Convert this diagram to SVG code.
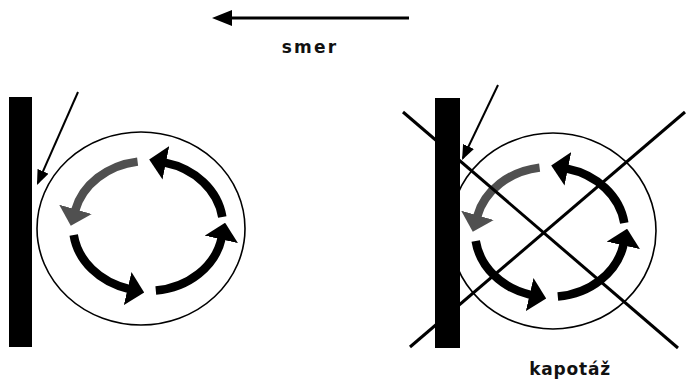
<svg xmlns="http://www.w3.org/2000/svg" width="687" height="384" viewBox="0 0 687 384">
<style>
.bar{fill:#000}
.ring{fill:none;stroke:#000;stroke-width:1.6}
.rot{fill:none;stroke:#000;stroke-width:8.5}
.rotg{fill:none;stroke:#505050;stroke-width:8.5}
.thin{fill:none;stroke:#000;stroke-width:2}
.cross{fill:none;stroke:#000;stroke-width:3}
.lbl{font-family:"DejaVu Sans","Liberation Sans",sans-serif;font-weight:bold;font-size:17px;fill:#111;text-anchor:middle}
</style>
<defs>
<marker id="headB" viewBox="0 0 17 34" refX="1" refY="17" markerWidth="17" markerHeight="34" markerUnits="userSpaceOnUse" orient="auto">
<path d="M0,0 L17,17 L0,34 z" fill="#000"/>
</marker>
<marker id="headG" viewBox="0 0 17 34" refX="1" refY="17" markerWidth="17" markerHeight="34" markerUnits="userSpaceOnUse" orient="auto">
<path d="M0,0 L17,17 L0,34 z" fill="#505050"/>
</marker>
<marker id="headT" viewBox="0 0 15 12" refX="13" refY="6" markerWidth="15" markerHeight="12" markerUnits="userSpaceOnUse" orient="auto">
<path d="M0,0 L15,6 L0,12 z" fill="#000"/>
</marker>
<g id="rotor">
<path class="rotg" d="M-10.4,-64.4 A75,65 0 0 0 -72.8,-15.7" marker-end="url(#headG)"/>
<path class="rot" d="M74.3,-9 A75,65 0 0 0 16.9,-63.3" marker-end="url(#headB)"/>
<path class="rot" d="M7.8,64.6 A75,65 0 0 0 73.6,12.4" marker-end="url(#headB)"/>
<path class="rot" d="M-74.3,9 A75,65 0 0 0 -19.4,62.8" marker-end="url(#headB)"/>
</g>
</defs>

<g id="direction">
<line x1="409" y1="18" x2="228" y2="18" stroke="#000" stroke-width="3"/>
<polygon points="212,18 232,10 232,26" fill="#000"/>
<text class="lbl" x="310" y="53" letter-spacing="2.2">smer</text>
</g>

<g id="left-case">
<ellipse class="ring" cx="141" cy="228.5" rx="104" ry="96.5"/>
<rect class="bar" x="9" y="97" width="23" height="250"/>
<use href="#rotor" x="148" y="226"/>
<line class="thin" x1="78" y1="92" x2="37.8" y2="183.2" marker-end="url(#headT)"/>
</g>

<g id="right-case">
<ellipse class="ring" cx="553" cy="231" rx="103" ry="98"/>
<rect class="bar" x="435" y="98" width="25" height="250"/>
<use href="#rotor" x="550" y="232"/>
<line class="thin" x1="498" y1="85" x2="462.9" y2="158.2" marker-end="url(#headT)"/>
<line class="cross" x1="403" y1="112" x2="678" y2="348"/>
<line class="cross" x1="410" y1="347" x2="685" y2="112"/>
<text class="lbl" x="570" y="375" letter-spacing="0.8">kapotáž</text>
</g>
</svg>
